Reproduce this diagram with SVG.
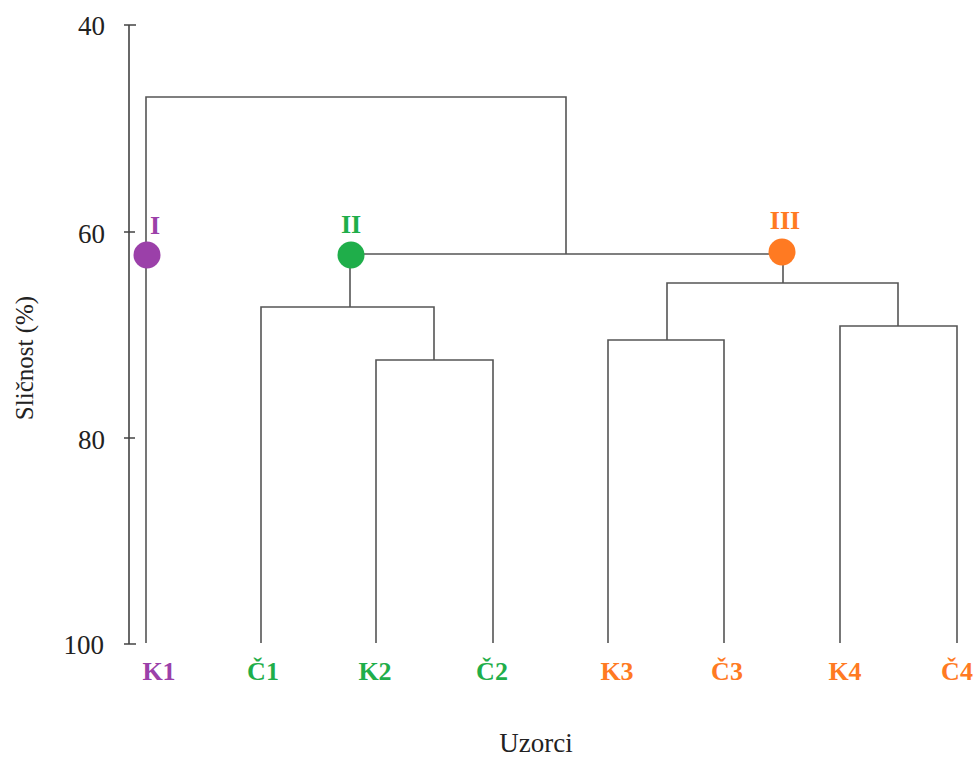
<svg xmlns="http://www.w3.org/2000/svg" width="977" height="757" viewBox="0 0 977 757">
<style>
text{font-family:"Liberation Serif","Times New Roman",Times,serif}
.ax{stroke:#444;stroke-width:1.6;fill:none}
.ln{stroke:#555;stroke-width:1.6;fill:none}
.tk{font-size:27px;fill:#222;text-anchor:end}
.ttl{font-size:27px;fill:#222;text-anchor:middle}
.lb{font-size:26px;font-weight:bold;text-anchor:middle}
.p{fill:#9b40a9}.g{fill:#1fae4a}.o{fill:#ff7a22}
</style>
<rect width="977" height="757" fill="#fff"/>
<g id="axis">
<path class="ax" d="M129 25V644M124 25H136M124 232H135M124 438H135M124 644H136"/>
<text class="tk" x="105" y="35">40</text>
<text class="tk" x="105" y="243">60</text>
<text class="tk" x="105" y="449">80</text>
<text class="tk" x="104" y="654">100</text>
<text class="ttl" style="font-size:25px" transform="translate(33 358) rotate(-90)">Sličnost (%)</text>
<text class="ttl" x="536" y="752">Uzorci</text>
</g>
<g id="connectors">
<path class="ln" d="M146 643V97H566V254M350 254H783"/>
<path class="ln" d="M350 254V307M261 643V307H434V360M376 643V360H493V643"/>
<path class="ln" d="M783 252V283M667 340V283H898V326M608 643V340H724V643M840 643V326H957V643"/>
</g>
<g id="I"><circle class="p" cx="147" cy="255" r="13.5"/><text class="lb p" x="155" y="234">I</text></g>
<g id="II"><circle class="g" cx="351" cy="255" r="13.5"/><text class="lb g" x="351" y="233">II</text></g>
<g id="III"><circle class="o" cx="782" cy="252" r="13.5"/><text class="lb o" x="785" y="229">III</text></g>
<g id="K1"><text class="lb p" x="159" y="680">K1</text></g>
<g id="C1"><text class="lb g" x="263" y="680">Č1</text></g>
<g id="K2"><text class="lb g" x="375" y="680">K2</text></g>
<g id="C2"><text class="lb g" x="492" y="680">Č2</text></g>
<g id="K3"><text class="lb o" x="617" y="680">K3</text></g>
<g id="C3"><text class="lb o" x="727" y="680">Č3</text></g>
<g id="K4"><text class="lb o" x="845" y="680">K4</text></g>
<g id="C4"><text class="lb o" x="957" y="680">Č4</text></g>
</svg>
